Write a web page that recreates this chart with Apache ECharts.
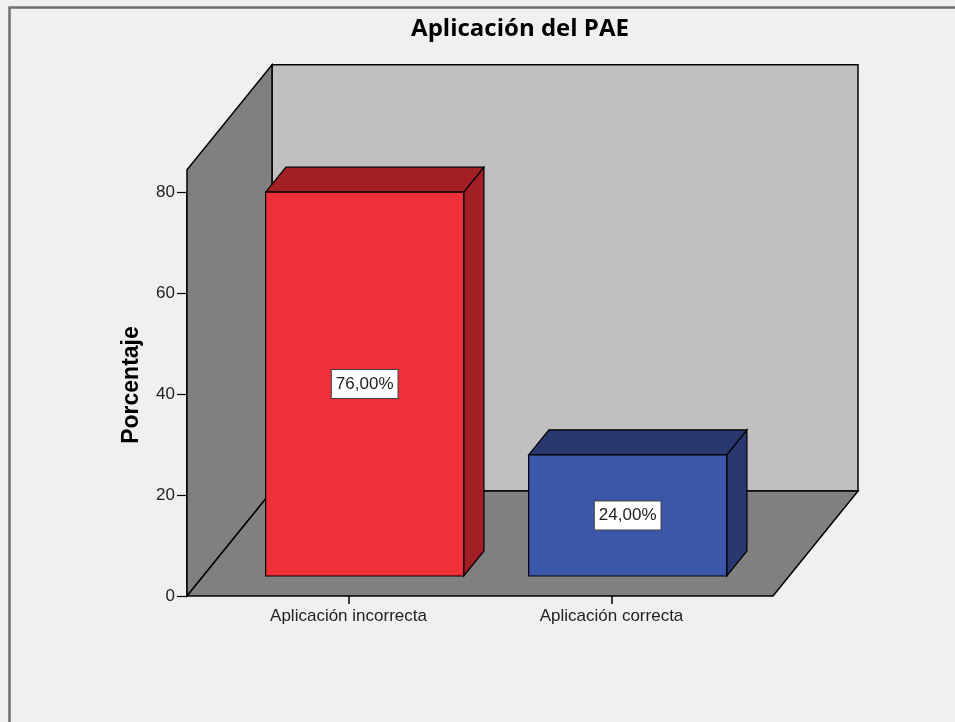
<!DOCTYPE html>
<html>
<head>
<meta charset="utf-8">
<script src="https://cdn.jsdelivr.net/npm/echarts@6/dist/echarts.min.js"></script>
<style>
html,body{margin:0;padding:0;background:#f0f0f0;}
#c{width:955px;height:722px;}
</style>
</head>
<body>
<div id="c"></div>
<script>
// ---- data ----
const chartTitle = 'Aplicación del PAE';
const categories = ['Aplicación incorrecta', 'Aplicación correcta'];
const percentages = [76, 24];
const yAxisName = 'Porcentaje';
const yMin = 0, yMax = 80, yInterval = 20;

// ---- geometry / style constants ----
const WALL_TOP = 84.4;          // value height of the back/side walls
const DEPTH_X = 85, DEPTH_Y = -105; // floor depth vector (px)
const BAR_FRONT = 20 / 105, BAR_BACK = 45 / 105; // bar position inside depth
const BAR_WIDTH_RATIO = 0.753;
const FLOOR_PAD = 30;
const barColors = [
  { front: '#ef3039', side: '#a11f25' },
  { front: '#3c56a9', side: '#29386f' }
];
const FONT = '"Liberation Sans", Arial, sans-serif';

function fmtPct(v) { return v.toFixed(2).replace('.', ',') + '%'; }

function renderWalls(params, api) {
  const cs = params.coordSys;
  const x0 = cs.x - FLOOR_PAD, x1 = cs.x + cs.width + FLOOR_PAD;
  const yb = api.coord([0, 0])[1];
  const yt = api.coord([0, WALL_TOP])[1];
  const line = { stroke: '#000', lineWidth: 1.5 };
  return {
    type: 'group',
    children: [
      { type: 'polygon', shape: { points: [[x0 + DEPTH_X, yt + DEPTH_Y], [x1 + DEPTH_X, yt + DEPTH_Y], [x1 + DEPTH_X, yb + DEPTH_Y], [x0 + DEPTH_X, yb + DEPTH_Y]] }, style: Object.assign({ fill: '#c0c0c0' }, line) },
      { type: 'polygon', shape: { points: [[x0, yb], [x0, yt], [x0 + DEPTH_X, yt + DEPTH_Y], [x0 + DEPTH_X, yb + DEPTH_Y]] }, style: Object.assign({ fill: '#808080' }, line) },
      { type: 'polygon', shape: { points: [[x0, yb], [x1, yb], [x1 + DEPTH_X, yb + DEPTH_Y], [x0 + DEPTH_X, yb + DEPTH_Y]] }, style: Object.assign({ fill: '#808080' }, line) }
    ]
  };
}

function renderBar(params, api) {
  const i = api.value(0), v = api.value(1);
  const c0 = api.coord([i, 0]);
  const c1 = api.coord([i, v]);
  const bw = api.size([1, 0])[0] * BAR_WIDTH_RATIO;
  const fdx = DEPTH_X * BAR_FRONT, fdy = DEPTH_Y * BAR_FRONT;
  const ddx = DEPTH_X * (BAR_BACK - BAR_FRONT), ddy = DEPTH_Y * (BAR_BACK - BAR_FRONT);
  const x0 = c0[0] - bw / 2 + fdx, x1 = x0 + bw;
  const yb = c0[1] + fdy, yt = c1[1] + fdy;
  const col = barColors[params.dataIndex % barColors.length];
  const line = { stroke: '#000', lineWidth: 1.2 };
  return {
    type: 'group',
    children: [
      { type: 'polygon', shape: { points: [[x1, yb], [x1, yt], [x1 + ddx, yt + ddy], [x1 + ddx, yb + ddy]] }, style: Object.assign({ fill: col.side }, line) },
      { type: 'polygon', shape: { points: [[x0, yt], [x1, yt], [x1 + ddx, yt + ddy], [x0 + ddx, yt + ddy]] }, style: Object.assign({ fill: col.side }, line) },
      { type: 'rect', shape: { x: x0, y: yt, width: bw, height: yb - yt }, style: Object.assign({ fill: col.front }, line) },
      { type: 'text', x: (x0 + x1) / 2, y: (yt + yb) / 2, style: {
          text: fmtPct(v), fill: '#222', fontSize: 17, fontFamily: FONT,
          align: 'center', verticalAlign: 'middle', lineHeight: 20,
          backgroundColor: '#ffffff', borderColor: '#444', borderWidth: 1, padding: [4, 4, 4, 4]
        } }
    ]
  };
}

const chart = echarts.init(document.getElementById('c'), null, { renderer: 'canvas' });
chart.setOption({
  animation: false,
  backgroundColor: '#f0f0f0',
  title: {
    text: chartTitle, left: 515, top: 12, textAlign: 'center',
    textStyle: { fontFamily: '"Open Sans", sans-serif', fontWeight: 'bold', fontSize: 24, color: '#000' }
  },
  graphic: [{
    type: 'rect', left: 7, top: 5, silent: true, z: 100,
    shape: { width: 1000, height: 800 },
    style: { fill: 'none', stroke: '#707070', lineWidth: 2.5 }
  }],
  grid: { left: 217, top: 192, width: 526, height: 404, containLabel: false },
  xAxis: {
    type: 'category', data: categories,
    axisLine: { show: false },
    axisTick: { show: true, alignWithLabel: true, length: 8, lineStyle: { color: '#000', width: 1.5 } },
    axisLabel: { color: '#222', fontSize: 17, fontFamily: FONT, margin: 12 },
    splitLine: { show: false }
  },
  yAxis: {
    type: 'value', min: yMin, max: yMax, interval: yInterval, offset: FLOOR_PAD,
    name: yAxisName, nameLocation: 'middle', nameRotate: 90, nameGap: 44,
    nameTextStyle: { fontFamily: FONT, fontWeight: 'bold', fontSize: 23, color: '#000', padding: [0, 0, 0, 18] },
    axisLine: { show: true, lineStyle: { color: '#000', width: 1.5 } },
    axisTick: { show: true, length: 10, lineStyle: { color: '#000', width: 1.2 } },
    axisLabel: { color: '#222', fontSize: 17, fontFamily: FONT, margin: 12 },
    splitLine: { show: false }
  },
  series: [
    { type: 'custom', name: 'walls', renderItem: renderWalls, data: [[0, 0]], encode: { x: 0, y: 1 }, silent: true, z: 1 },
    { type: 'custom', name: 'Porcentaje', renderItem: renderBar, data: percentages.map((v, i) => [i, v]), encode: { x: 0, y: 1 }, z: 3 }
  ]
});
</script>
</body>
</html>
